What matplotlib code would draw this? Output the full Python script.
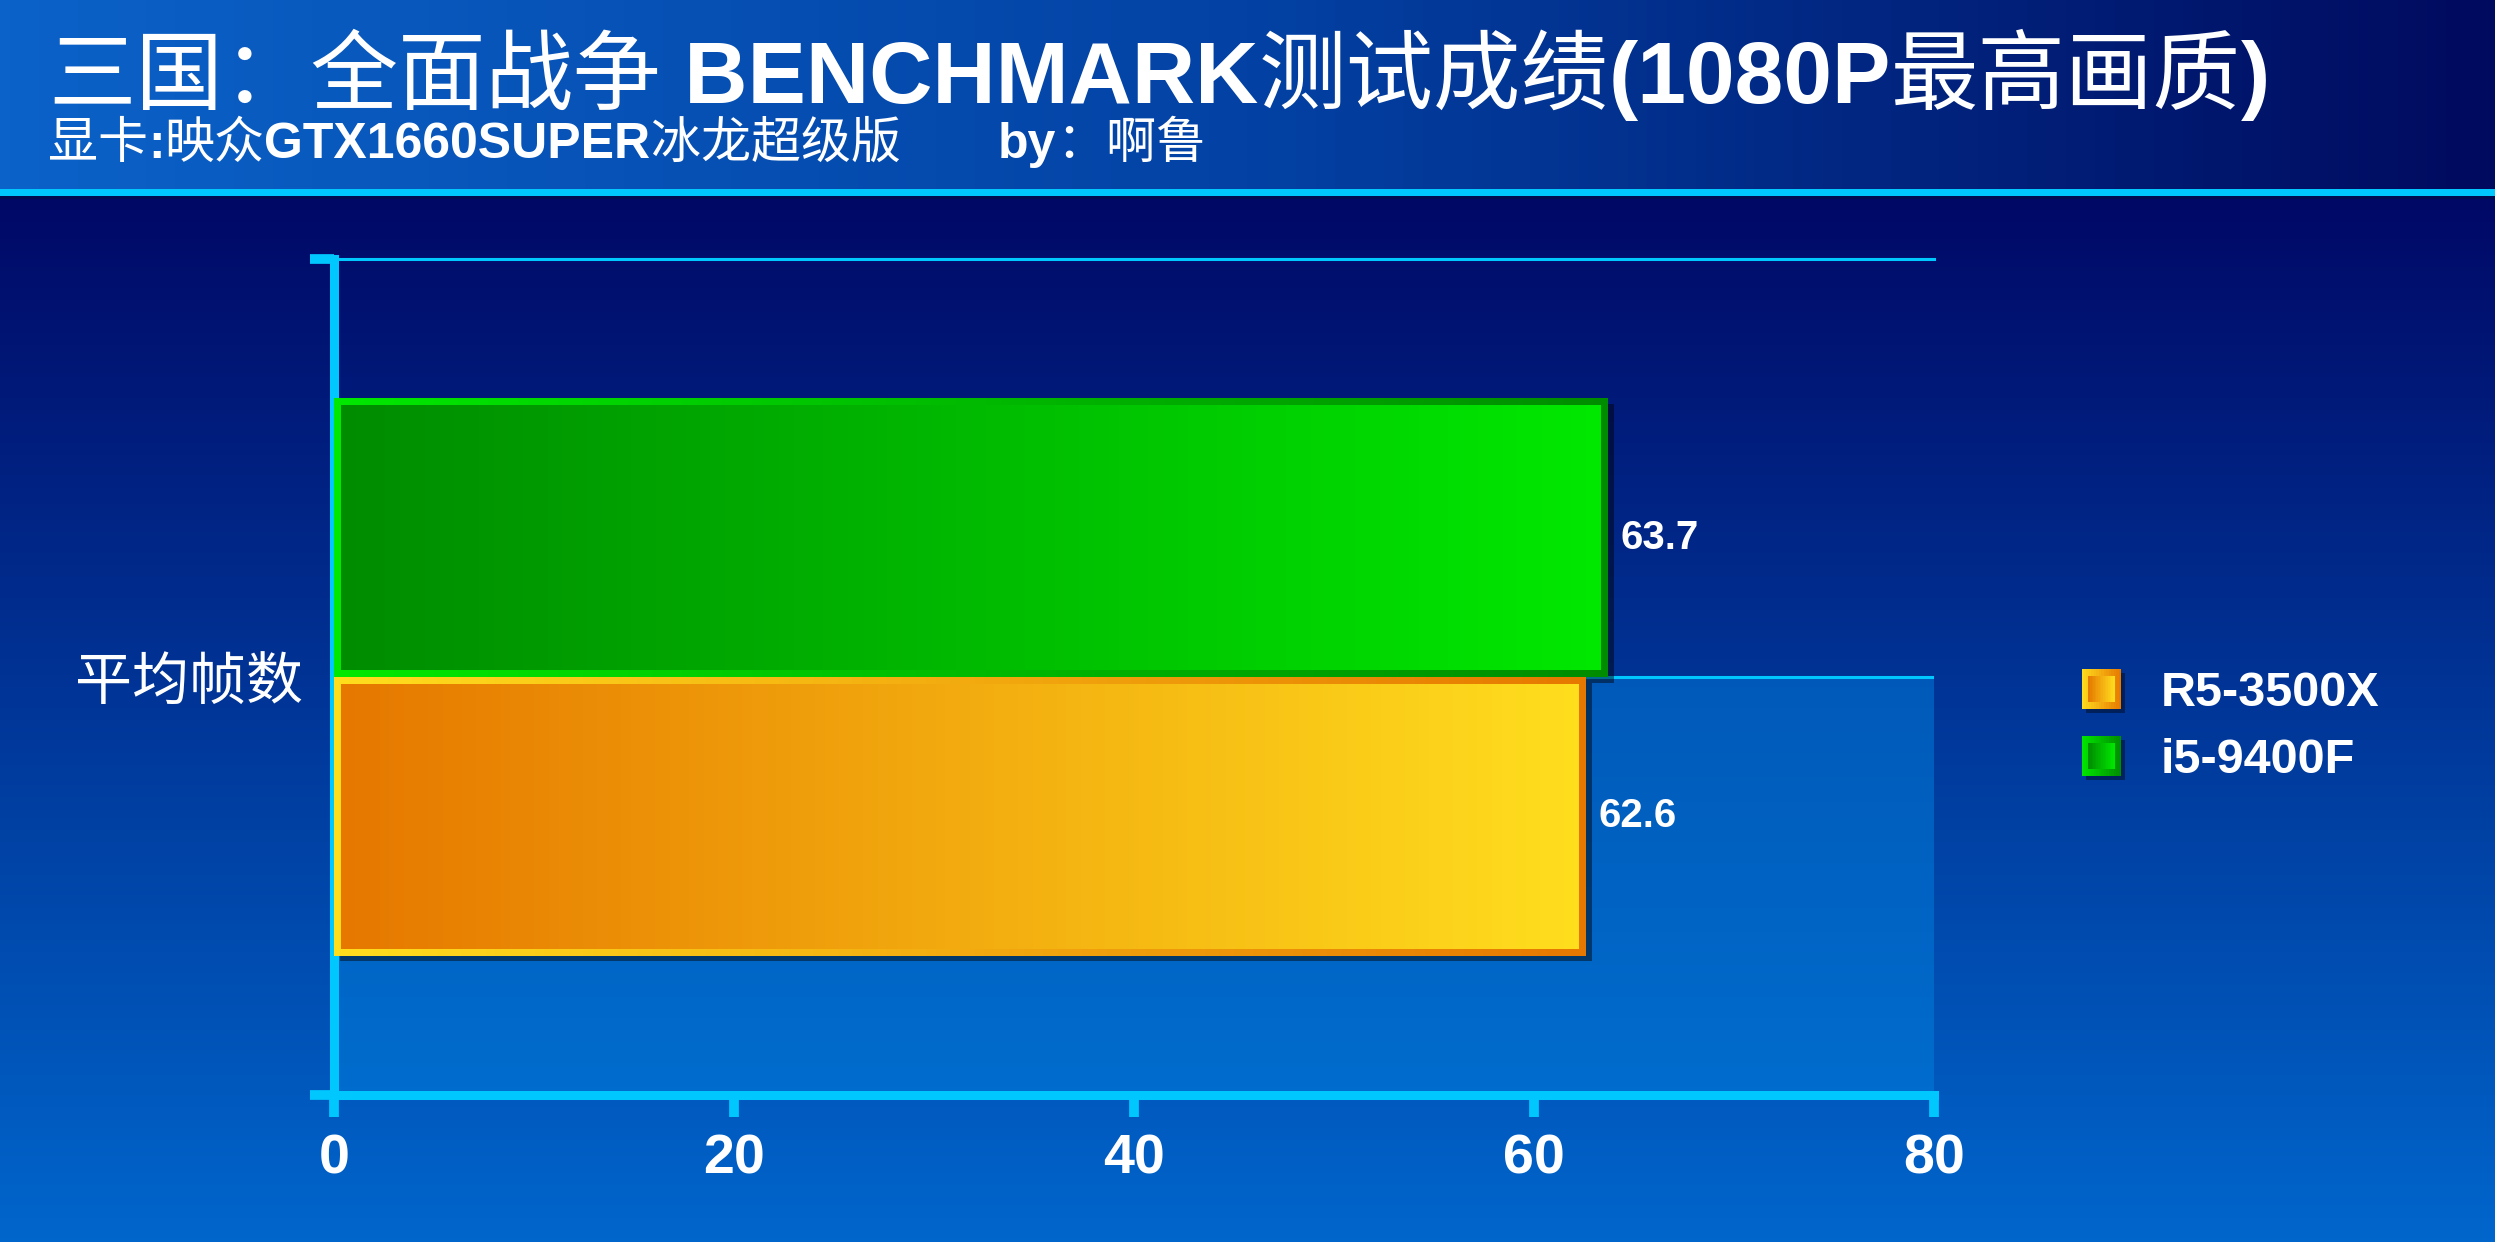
import numpy as np
import matplotlib
matplotlib.use("Agg")
import matplotlib.pyplot as plt
import matplotlib.patheffects as pe
from matplotlib.colors import LinearSegmentedColormap, to_rgb
from matplotlib.legend_handler import HandlerBase
from matplotlib.patches import Rectangle

# ---- data ----
categories = ["平均帧数"]
series = ["R5-3500X", "i5-9400F"]
values = [62.6, 63.7]
x_ticks = [0, 20, 40, 60, 80]

# (dark, light) colours per series
bar_colors = [("#e67800", "#ffde1e"), ("#008c00", "#00e800")]

W, H = 2495, 1242
CYAN = "#00c8ff"
CJK = dict(family=["Noto Sans CJK SC", "DejaVu Sans"])
LAT = dict(family=["Liberation Sans", "DejaVu Sans"], weight="bold")

fig = plt.figure(figsize=(W / 100, H / 100), dpi=100)

# ---- background ----
bg = fig.add_axes([0, 0, 1, 1], zorder=-10)
bg.axis("off")
bg.set_xlim(0, W)
bg.set_ylim(H, 0)
head = LinearSegmentedColormap.from_list("head", ["#0b62c8", "#0342a4", "#000a5e"])
bg.imshow(np.linspace(0, 1, 256)[None, :], cmap=head, extent=[0, W, 189, 0], aspect="auto")
body = LinearSegmentedColormap.from_list("body", ["#000866", "#0066cc"])
bg.imshow(np.linspace(0, 1, 256)[:, None], cmap=body, extent=[0, W, H, 198], aspect="auto")
bg.add_patch(Rectangle((0, 189), W, 7, color=CYAN, lw=0))
bg.add_patch(Rectangle((0, 196), W, 3, color="#000c50", lw=0))
bg.set_xlim(0, W)
bg.set_ylim(H, 0)


def rich_text(x, y, parts, size):
    r = fig.canvas.get_renderer()
    for s, style, x_abs in parts:
        if x_abs is not None:
            x = x_abs
        t = fig.text(x / W, 1 - y / H, s, color="white", fontsize=size,
                     va="baseline", ha="left", **style)
        x += t.get_window_extent(r).width


rich_text(48, 103, [("三国：全面战争", CJK, None), (" BENCHMARK", LAT, None),
                    ("测试成绩", CJK, None), ("(1080P", LAT, None),
                    ("最高画质", CJK, None), (")", LAT, None)], 63)
rich_text(48, 158, [("显卡", CJK, None), (":", LAT, None), ("映众", CJK, None),
                    ("GTX1660SUPER", LAT, None), ("冰龙超级版", CJK, None),
                    ("by", LAT, 998), ("：啊鲁", CJK, None)], 36)

# ---- main chart ----
ax = fig.add_axes([334 / W, 1 - 1095 / H, 1600 / W, 836 / H])
ax.patch.set_alpha(0)
ax.set_xlim(0, 80)
ax.set_ylim(-1.5, 1.5)

ax.axhspan(-1.5, 0, color=(0, 0.5, 0.867), alpha=0.5, lw=0, zorder=0)
ax.axhline(1.5, color=CYAN, lw=2.2, zorder=1, clip_on=False)
ax.axhline(0, color=CYAN, lw=2.2, zorder=1)

offsets = [-0.5, 0.5]
bars = ax.barh([offsets[i] for i in range(len(series))], values, height=1.0,
               color="#102040", lw=0, zorder=2)

# pixel sizes -> data units for the bevel border
px_x = 80 / 1600
px_y = 3 / 836
bw = 7
for b, (dark, light) in zip(bars, bar_colors):
    b.set_path_effects([pe.SimplePatchShadow(offset=(4, -4), shadow_rgbFace="black", alpha=0.45),
                        pe.Normal()])
    x0, y0 = b.get_x(), b.get_y()
    x1, y1 = x0 + b.get_width(), y0 + b.get_height()
    cm = LinearSegmentedColormap.from_list("g", [dark, light])
    grad = np.linspace(0, 1, 256)[None, :]
    ax.imshow(grad[:, ::-1], cmap=cm, extent=[x0, x1, y0, y1], aspect="auto", zorder=3)
    ax.imshow(grad, cmap=cm, aspect="auto", zorder=3,
              extent=[x0 + bw * px_x, x1 - bw * px_x, y0 + bw * px_y, y1 - bw * px_y])
    ax.annotate(f"{b.get_width():.1f}", xy=(x1, (y0 + y1) / 2), xytext=(9, 0),
                textcoords="offset points", va="center", ha="left", fontsize=29,
                color="white", zorder=5, **LAT)

ax.set_xlim(0, 80)
ax.set_ylim(-1.5, 1.5)

for s in ["top", "right"]:
    ax.spines[s].set_visible(False)
for s in ["left", "bottom"]:
    ax.spines[s].set_color(CYAN)
    ax.spines[s].set_linewidth(6.5)
    ax.spines[s].set_capstyle("projecting")

ax.set_xticks(x_ticks)
ax.set_xticklabels([str(t) for t in x_ticks], fontsize=40, color="white", **LAT)
ax.tick_params(axis="x", direction="out", length=16, width=7, color=CYAN, pad=12)

ax.set_yticks([-1.5, 1.5])
ax.set_yticklabels(["", ""])
ax.tick_params(axis="y", which="major", direction="out", length=17, width=7, color=CYAN)
ax.set_yticks([0], minor=True)
ax.set_yticklabels(categories, minor=True, fontsize=41, color="white", **CJK)
ax.tick_params(axis="y", which="minor", length=0, pad=22)


# ---- legend ----
class GradientSquare(HandlerBase):
    def __init__(self, dark, light):
        super().__init__()
        self.dark = np.array(to_rgb(dark))
        self.light = np.array(to_rgb(light))

    def create_artists(self, legend, orig_handle, xdescent, ydescent,
                       width, height, fontsize, trans):
        s = min(width, height)
        x0 = -xdescent + (width - s) / 2
        y0 = -ydescent + (height - s) / 2
        arts = [Rectangle((x0 + s * 0.1, y0 - s * 0.1), s, s, facecolor="black",
                          alpha=0.4, lw=0, transform=trans)]
        n = 16
        for i in range(n):
            f = (i + 0.5) / n
            arts.append(Rectangle((x0 + s * i / n, y0), s / n * 1.05, s, lw=0,
                                  facecolor=self.light + (self.dark - self.light) * f,
                                  transform=trans))
        bd = s * 0.17
        inner = s - 2 * bd
        for i in range(n):
            f = (i + 0.5) / n
            arts.append(Rectangle((x0 + bd + inner * i / n, y0 + bd), inner / n * 1.05, inner,
                                  lw=0, facecolor=self.dark + (self.light - self.dark) * f,
                                  transform=trans))
        return arts


handler_map = {b: GradientSquare(*c) for b, c in zip(bars, bar_colors)}
leg = ax.legend(list(bars), series, handler_map=handler_map, loc="center left",
                bbox_to_anchor=(2080 / W, 1 - 726 / H), bbox_transform=fig.transFigure,
                frameon=False, borderpad=0, borderaxespad=0, labelspacing=0.42,
                handletextpad=0.78, handlelength=0.88, handleheight=0.88,
                prop=dict(size=35, **LAT))
for t in leg.get_texts():
    t.set_color("white")

fig.savefig("out.png", dpi=100)
